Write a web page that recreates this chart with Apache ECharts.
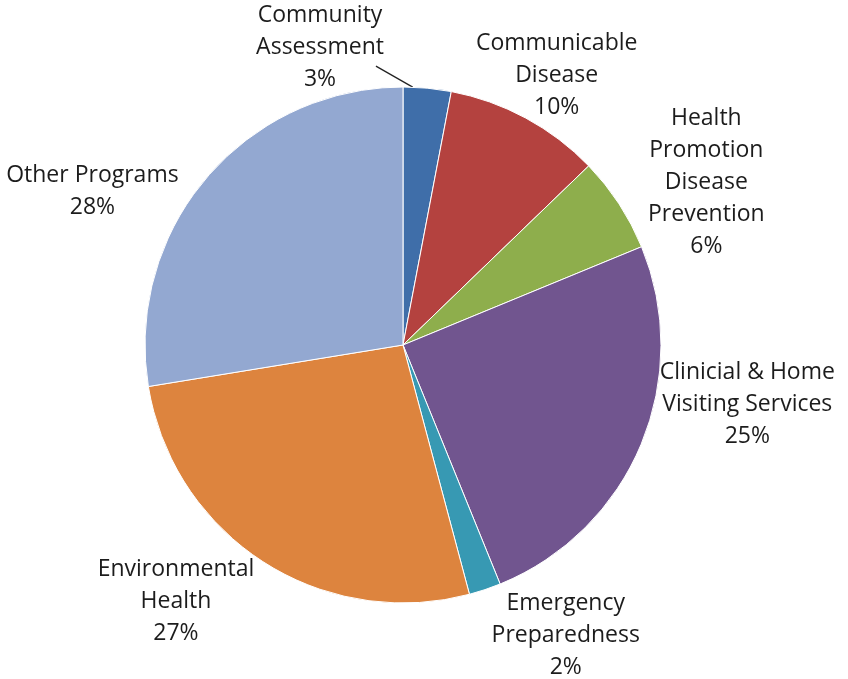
<!DOCTYPE html>
<html>
<head>
<meta charset="utf-8">
<script src="https://cdn.jsdelivr.net/npm/echarts@6/dist/echarts.min.js"></script>
<style>
  html, body { margin: 0; padding: 0; background: #fff; }
  #chart { width: 848px; height: 679px; }
</style>
</head>
<body>
<div id="chart"></div>
<script>
  // slice names and shares (clockwise from 12 o'clock)
  const categories = [
    'Community\nAssessment',
    'Communicable\nDisease',
    'Health\nPromotion\nDisease\nPrevention',
    'Clinicial & Home\nVisiting Services',
    'Emergency\nPreparedness',
    'Environmental\nHealth',
    'Other Programs'
  ];
  const values = [3.0, 9.8, 6.0, 25.1, 2.0, 26.6, 27.6];
  const colors = ['#3f6ea9', '#b4423f', '#8eae4c', '#71558f', '#3799b3', '#dd843e', '#93a8d1'];

  const cx = 403, cy = 345, R = 258;
  const fontSize = 23, lineH = 32, fontFamily = 'Open Sans';
  const total = values.reduce((a, b) => a + b, 0);

  // start / mid angle of every slice, degrees clockwise from top
  const startAngles = [], midAngles = [];
  let acc = 0;
  values.forEach(v => {
    startAngles.push(acc / total * 360);
    midAngles.push((acc + v / 2) / total * 360);
    acc += v;
  });

  // measure label boxes ourselves (ECharts would otherwise truncate them)
  const ctx = document.createElement('canvas').getContext('2d');
  ctx.font = fontSize + 'px "' + fontFamily + '"';
  function labelBox(i) {
    const lines = (categories[i] + '\n' + Math.round(values[i] / total * 100) + '%').split('\n');
    const w = Math.max.apply(null, lines.map(s => ctx.measureText(s).width));
    return { w: w / 2, h: lines.length * lineH / 2 };
  }

  // Excel-like placement: labels drift toward the horizontal, box sits just off the rim;
  // a few labels were moved by hand in the original, hence the small tweaks
  const angleTweak = [-21, -8, 0, -9.5, 0, 0, -8];
  const distTweak = [-10, -26, 0, 0, 0, 0, 0];
  function labelAngle(i) {
    const t = midAngles[i];
    if (i === 0) return t + angleTweak[0];
    const H = t < 180 ? 90 : 270;
    return H + (t - H) * 0.85 + angleTweak[i];
  }

  const chart = echarts.init(document.getElementById('chart'));

  const option = {
    animation: false,
    series: [{
      type: 'pie',
      center: [cx, cy],
      radius: R,
      startAngle: 90,
      clockwise: true,
      itemStyle: { borderColor: '#fff', borderWidth: 1 },
      label: {
        show: true,
        position: 'outside',
        fontFamily: fontFamily,
        fontSize: fontSize,
        lineHeight: lineH,
        color: '#1c1c1c',
        width: 260,
        overflow: 'none',
        align: 'center',
        formatter: p => p.name + '\n' + Math.round(p.percent) + '%'
      },
      labelLine: { show: false },
      emphasis: { disabled: true },
      labelLayout: function (params) {
        const i = params.dataIndex;
        const a = labelAngle(i) * Math.PI / 180;
        const ux = Math.sin(a), uy = -Math.cos(a);
        const box = labelBox(i);
        const d = R - 3 + Math.abs(ux) * box.w + Math.abs(uy) * box.h + distTweak[i];
        const x = cx + ux * d, y = cy + uy * d;
        const out = { x: x, y: y, align: 'center', verticalAlign: 'middle' };
        if (i === 0) {
          const b = (startAngles[0] + (midAngles[0] - startAngles[0]) * 0.4) * Math.PI / 180;
          out.labelLinePoints = [
            [cx + Math.sin(b) * R, cy - Math.cos(b) * R],
            [x + box.w - 8, y + box.h * 0.38],
            [x + box.w - 8, y + box.h * 0.38]
          ];
        }
        return out;
      },
      data: categories.map((name, i) => ({
        name: name,
        value: values[i],
        itemStyle: { color: colors[i] },
        labelLine: i === 0 ? { show: true, lineStyle: { color: '#222', width: 1.3 } } : { show: false }
      }))
    }]
  };

  chart.setOption(option);
</script>
</body>
</html>
